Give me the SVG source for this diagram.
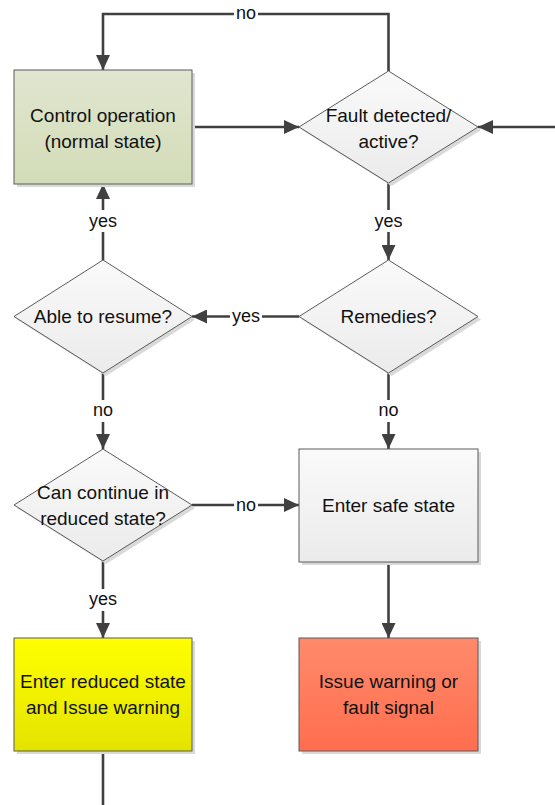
<svg xmlns="http://www.w3.org/2000/svg" width="555" height="805" viewBox="0 0 555 805">
  <style>
    .lbl { font-family: "Liberation Sans", "Noto Sans", sans-serif; font-size: 19px; fill: #111; text-anchor: middle; dominant-baseline: central; }
    .edge { fill: none; stroke: #404040; stroke-width: 2.6; }
    .elbl { font-family: "Liberation Sans", "Noto Sans", sans-serif; font-size: 18px; fill: #111; text-anchor: middle; dominant-baseline: central; }
    .lblbg { fill: #ffffff; }
    .shadow { fill: #d9d9d9; }
    .outline { stroke: #5a5a5a; stroke-width: 1; }
  </style>
  <defs>
    <linearGradient id="gGreen" x1="0" y1="0" x2="0" y2="1">
      <stop offset="0" stop-color="#e0e6cf"/>
      <stop offset="1" stop-color="#d3dcb8"/>
    </linearGradient>
    <linearGradient id="gGray" x1="0" y1="0" x2="0" y2="1">
      <stop offset="0" stop-color="#fafafa"/>
      <stop offset="1" stop-color="#ebebeb"/>
    </linearGradient>
    <linearGradient id="gYellow" x1="0" y1="0" x2="0" y2="1">
      <stop offset="0" stop-color="#ffff00"/>
      <stop offset="1" stop-color="#e3e300"/>
    </linearGradient>
    <linearGradient id="gRed" x1="0" y1="0" x2="0" y2="1">
      <stop offset="0" stop-color="#ff8a6c"/>
      <stop offset="1" stop-color="#ff6e4e"/>
    </linearGradient>
    <marker id="arrow" viewBox="0 0 15 14" refX="15" refY="7" markerWidth="15" markerHeight="14" markerUnits="userSpaceOnUse" orient="auto">
      <path d="M0,0 L15,7 L0,14 Z" fill="#404040"/>
    </marker>
  </defs>

  <!-- connectors -->
  <g id="connectors">
    <path class="edge" d="M388.5,71 V14 H103 V70" marker-end="url(#arrow)"/>
    <path class="edge" d="M192,127 H299" marker-end="url(#arrow)"/>
    <path class="edge" d="M555,127 H478" marker-end="url(#arrow)"/>
    <path class="edge" d="M388.5,183 V260" marker-end="url(#arrow)"/>
    <path class="edge" d="M103,260 V184" marker-end="url(#arrow)"/>
    <path class="edge" d="M299,316.5 H192" marker-end="url(#arrow)"/>
    <path class="edge" d="M103,373 V449" marker-end="url(#arrow)"/>
    <path class="edge" d="M388.5,373 V449" marker-end="url(#arrow)"/>
    <path class="edge" d="M192,505 H299" marker-end="url(#arrow)"/>
    <path class="edge" d="M103,561 V638" marker-end="url(#arrow)"/>
    <path class="edge" d="M388.5,562 V638" marker-end="url(#arrow)"/>
    <path class="edge" d="M103,751 V805"/>

    <!-- edge labels -->
    <rect class="lblbg" x="234" y="4" width="24" height="20"/>
    <text class="elbl" x="246" y="13">no</text>
    <rect class="lblbg" x="87" y="210" width="32" height="22"/>
    <text class="elbl" x="103" y="221">yes</text>
    <rect class="lblbg" x="372" y="210" width="32" height="22"/>
    <text class="elbl" x="388.5" y="221">yes</text>
    <rect class="lblbg" x="230" y="306" width="32" height="22"/>
    <text class="elbl" x="246" y="316">yes</text>
    <rect class="lblbg" x="91" y="400" width="24" height="22"/>
    <text class="elbl" x="103" y="410">no</text>
    <rect class="lblbg" x="376" y="400" width="24" height="22"/>
    <text class="elbl" x="388.5" y="410">no</text>
    <rect class="lblbg" x="234" y="494" width="24" height="22"/>
    <text class="elbl" x="246" y="505">no</text>
    <rect class="lblbg" x="87" y="589" width="32" height="22"/>
    <text class="elbl" x="103" y="599">yes</text>
  </g>

  <!-- nodes -->
  <g id="control-operation">
    <rect class="shadow" x="17" y="73" width="178" height="114"/>
    <rect class="outline" x="14" y="70" width="178" height="114" fill="url(#gGreen)"/>
    <text class="lbl" x="103" y="115">Control operation</text>
    <text class="lbl" x="103" y="141">(normal state)</text>
  </g>

  <g id="fault-detected">
    <path class="shadow" d="M391.5,74 L481,130 L391.5,186 L302,130 Z"/>
    <path class="outline" d="M388.5,71 L478,127 L388.5,183 L299,127 Z" fill="url(#gGray)"/>
    <text class="lbl" x="388.5" y="115">Fault detected/</text>
    <text class="lbl" x="388.5" y="141">active?</text>
  </g>

  <g id="able-to-resume">
    <path class="shadow" d="M106,263 L195,319.5 L106,376 L17,319.5 Z"/>
    <path class="outline" d="M103,260 L192,316.5 L103,373 L14,316.5 Z" fill="url(#gGray)"/>
    <text class="lbl" x="103" y="316">Able to resume?</text>
  </g>

  <g id="remedies">
    <path class="shadow" d="M391.5,263 L481,319.5 L391.5,376 L302,319.5 Z"/>
    <path class="outline" d="M388.5,260 L478,316.5 L388.5,373 L299,316.5 Z" fill="url(#gGray)"/>
    <text class="lbl" x="388.5" y="316">Remedies?</text>
  </g>

  <g id="can-continue">
    <path class="shadow" d="M106,452 L195,508 L106,564 L17,508 Z"/>
    <path class="outline" d="M103,449 L192,505 L103,561 L14,505 Z" fill="url(#gGray)"/>
    <text class="lbl" x="103" y="492">Can continue in</text>
    <text class="lbl" x="103" y="518">reduced state?</text>
  </g>

  <g id="enter-safe-state">
    <rect class="shadow" x="302" y="452" width="179" height="113"/>
    <rect class="outline" x="299" y="449" width="179" height="113" fill="url(#gGray)"/>
    <text class="lbl" x="388.5" y="505">Enter safe state</text>
  </g>

  <g id="enter-reduced-state">
    <rect class="shadow" x="17" y="641" width="178" height="113"/>
    <rect class="outline" x="14" y="638" width="178" height="113" fill="url(#gYellow)"/>
    <text class="lbl" x="103" y="681">Enter reduced state</text>
    <text class="lbl" x="103" y="707">and Issue warning</text>
  </g>

  <g id="issue-warning">
    <rect class="shadow" x="302" y="641" width="179" height="113"/>
    <rect class="outline" x="299" y="638" width="179" height="113" fill="url(#gRed)"/>
    <text class="lbl" x="388.5" y="681">Issue warning or</text>
    <text class="lbl" x="388.5" y="707">fault signal</text>
  </g>
</svg>
